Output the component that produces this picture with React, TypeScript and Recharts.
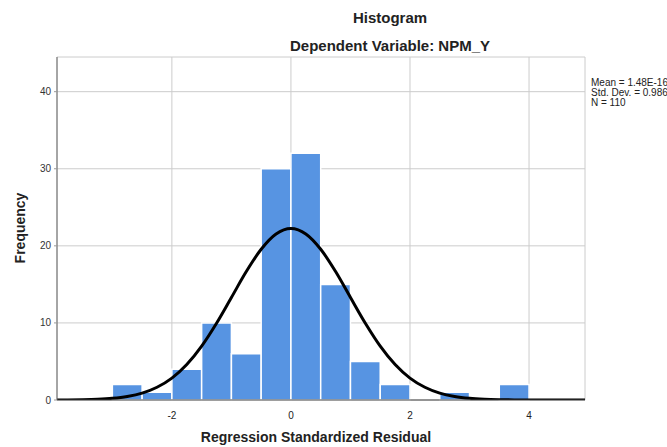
import React from "react";
import {
  ComposedChart,
  Line,
  XAxis,
  YAxis,
  CartesianGrid,
  ReferenceArea,
} from "recharts";

// Histogram bins (lower edge, upper edge) and frequencies
const binStarts = [-3, -2.5, -2, -1.5, -1, -0.5, 0, 0.5, 1, 1.5, 2, 2.5, 3, 3.5];
const binWidth = 0.5;
const frequencies = [2, 1, 4, 10, 6, 30, 32, 15, 5, 2, 0, 1, 0, 2];

// Normal curve
const curveX = [
  -4, -3.75, -3.5, -3.25, -3, -2.75, -2.5, -2.25, -2, -1.75, -1.5, -1.25, -1, -0.75, -0.5, -0.25,
  0, 0.25, 0.5, 0.75, 1, 1.25, 1.5, 1.75, 2, 2.25, 2.5, 2.75, 3, 3.25, 3.5, 3.75, 4, 4.5, 5,
];
const curveY = [
  0.006, 0.016, 0.041, 0.097, 0.217, 0.455, 0.89, 1.65, 2.84, 4.6, 6.99, 9.96, 13.3, 16.66, 19.56, 21.54,
  22.25, 21.54, 19.56, 16.66, 13.3, 9.96, 6.99, 4.6, 2.84, 1.65, 0.89, 0.455, 0.217, 0.097, 0.041, 0.016, 0.006, 0.001, 0,
];

const xTicks = [-2, 0, 2, 4];
const yTicks = [0, 10, 20, 30, 40];
const statLines = ["Mean = 1.48E-16", "Std. Dev. = 0.986", "N = 110"];
const title = "Histogram";
const subtitle = "Dependent Variable: NPM_Y";
const xLabel = "Regression Standardized Residual";
const yLabel = "Frequency";

const curveData = curveX.map((x, i) => ({ x, y: curveY[i] }));

const FONT = "Arial, 'Liberation Sans', sans-serif";
const BAR = "#5794e2";

export default function App() {
  return (
    <div
      style={{
        position: "absolute",
        left: 0,
        top: 0,
        width: 667,
        height: 447,
        background: "#fff",
        fontFamily: FONT,
        overflow: "hidden",
      }}
    >
      <ComposedChart
        width={667}
        height={447}
        data={curveData}
        margin={{ top: 57, right: 82, bottom: 17, left: 0 }}
      >
        <CartesianGrid stroke="#cccccc" strokeWidth={1} />
        <XAxis
          dataKey="x"
          type="number"
          domain={[-3.93, 4.94]}
          ticks={xTicks}
          allowDataOverflow
          height={30}
          tickLine={false}
          axisLine={{ stroke: "#444", strokeWidth: 1 }}
          tick={{ fontSize: 10, fill: "#222", fontFamily: FONT }}
          tickMargin={6}
        />
        <YAxis
          type="number"
          domain={[0, 44.5]}
          ticks={yTicks}
          allowDataOverflow
          width={57}
          tickSize={3}
          tickLine={{ stroke: "#999" }}
          axisLine={{ stroke: "#666", strokeWidth: 1 }}
          tick={{ fontSize: 10, fill: "#333", fontFamily: FONT }}
          tickMargin={3}
        />
        {binStarts.map((b, i) =>
          frequencies[i] > 0 ? (
            <ReferenceArea
              key={i}
              x1={b}
              x2={b + binWidth}
              y1={0}
              y2={frequencies[i]}
              fill={BAR}
              fillOpacity={1}
              stroke="#ffffff"
              strokeWidth={1.5}
              ifOverflow="visible"
            />
          ) : null
        )}
        <Line
          dataKey="y"
          type="monotone"
          stroke="#000"
          strokeWidth={3}
          dot={false}
          activeDot={false}
          isAnimationActive={false}
        />
      </ComposedChart>
      <svg
        width={667}
        height={447}
        style={{ position: "absolute", left: 0, top: 0, pointerEvents: "none" }}
      >
        <text x={390} y={23} textAnchor="middle" fontSize={15} fontWeight="bold" fontFamily={FONT} fill="#222">
          {title}
        </text>
        <text x={390} y={51} textAnchor="middle" fontSize={15} fontWeight="bold" fontFamily={FONT} fill="#222">
          {subtitle}
        </text>
        <text x={316} y={442} textAnchor="middle" fontSize={14} fontWeight="bold" fontFamily={FONT} fill="#222">
          {xLabel}
        </text>
        <text
          x={25}
          y={228}
          textAnchor="middle"
          fontSize={14}
          fontWeight="bold"
          fontFamily={FONT}
          fill="#222"
          transform="rotate(-90 25 228)"
        >
          {yLabel}
        </text>
        {statLines.map((s, i) => (
          <text key={i} x={591} y={86 + i * 10} fontSize={10} fontFamily={FONT} fill="#222">
            {s}
          </text>
        ))}
      </svg>
    </div>
  );
}
